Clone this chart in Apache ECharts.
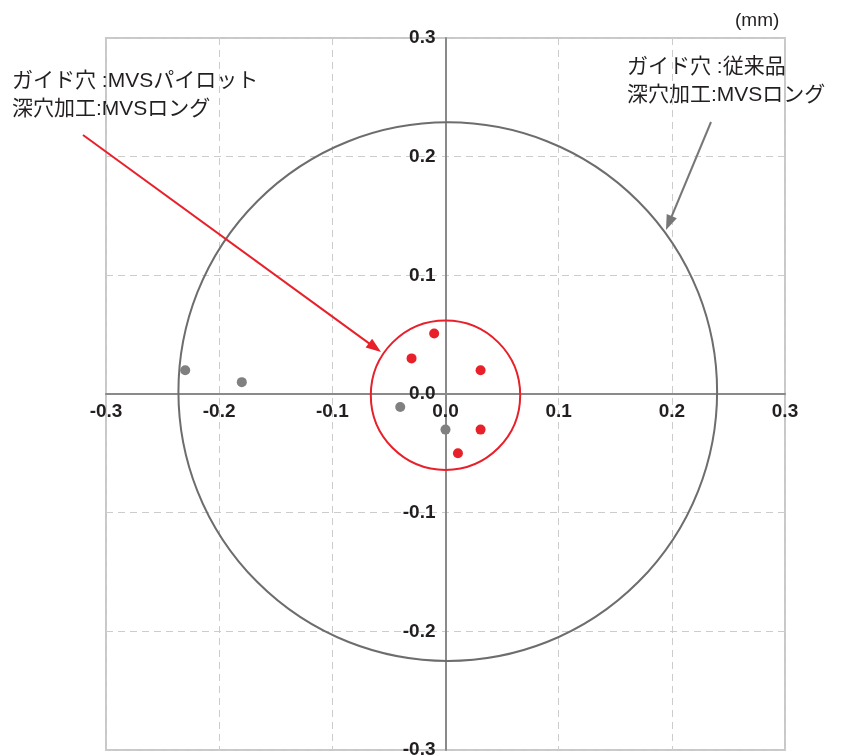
<!DOCTYPE html>
<html>
<head>
<meta charset="utf-8">
<script src="https://cdn.jsdelivr.net/npm/echarts@6/dist/echarts.min.js"></script>
<style>
html,body{margin:0;padding:0;background:#fff;}
#main{width:847px;height:756px;}
</style>
</head>
<body>
<div id="main"></div>
<script>
// tick labels
var tickMin = -0.3, tickMax = 0.3, tickStep = 0.1;
// MVS pilot guide hole points (red)
var redX = [-0.01, -0.03, 0.031, 0.031, 0.011];
var redY = [0.051, 0.03, 0.02, -0.03, -0.05];
// conventional guide hole points (gray)
var grayX = [-0.23, -0.18, -0.04, 0.0];
var grayY = [0.02, 0.01, -0.011, -0.03];
// circles: [centerX, centerY, radius]
var redCircle = [0.0, -0.001, 0.066];
var grayCircle = [0.002, 0.002, 0.238];

var RED = '#e8202a', GRAY = '#808080', TXT = '#231f20';
var LAT = '"Liberation Sans", Arial, "Noto Sans CJK JP", sans-serif';

function pts(xs, ys){ return xs.map(function(x,i){ return [x, ys[i]]; }); }

function circleSeries(c, color){
  return {
    type: 'custom', clip: false, z: 3,
    data: [c],
    renderItem: function(params, api){
      var ctr = api.coord([api.value(0), api.value(1)]);
      var r = api.size([api.value(2), 0])[0];
      return { type: 'circle', shape: {cx: ctr[0], cy: ctr[1], r: r},
               style: {fill: 'none', stroke: color, lineWidth: 2} };
    }
  };
}

function arrow(x1,y1,x2,y2,color,len,wid){
  var dx=x2-x1, dy=y2-y1, L=Math.sqrt(dx*dx+dy*dy), ux=dx/L, uy=dy/L;
  var bx=x2-ux*len, by=y2-uy*len, px=-uy, py=ux;
  return [
    {type:'line', z:10, shape:{x1:x1,y1:y1,x2:bx+ux*2,y2:by+uy*2}, style:{stroke:color,lineWidth:2}},
    {type:'polygon', z:10, shape:{points:[[x2,y2],[bx+px*wid/2,by+py*wid/2],[bx-px*wid/2,by-py*wid/2]]}, style:{fill:color}}
  ];
}

function fmt(v){ return v.toFixed(1); }
function makeAxis(margin){
  return {
    type: 'value', min: tickMin, max: tickMax, interval: tickStep,
    axisLine: {show: true, onZero: false, lineStyle: {color: '#8a8a8a', width: 2}},
    axisTick: {show: false},
    splitLine: {show: true, lineStyle: {color: '#cccccc', width: 1, type: [7,5]}},
    axisLabel: {show: true, color: TXT, fontFamily: LAT, fontWeight: 'bold', fontSize: 19,
                margin: margin, showMinLabel: true, showMaxLabel: true, formatter: fmt}
  };
}

var chart = echarts.init(document.getElementById('main'));
var JP = '21px "Liberation Sans", "Noto Sans CJK JP", sans-serif';
var graphics = [
  {type:'text', left: 735, top: 11, style:{text:'(mm)', fill:TXT, font:'19px ' + LAT}},
  {type:'text', left: 12, top: 67, style:{text:'ガイド穴 :MVSパイロット\n深穴加工:MVSロング', fill:TXT,
     font: JP, lineHeight: 28}},
  {type:'text', left: 627, top: 53, style:{text:'ガイド穴 :従来品\n深穴加工:MVSロング', fill:TXT,
     font: JP, lineHeight: 28}}
].concat(arrow(83,135,381,352,RED,15,11)).concat(arrow(711,122,666,230,'#777777',15,11));

chart.setOption({
  backgroundColor: '#fff',
  animation: false,
  grid: {left: 106, right: 62, top: 38, bottom: 6, show: true, borderColor: '#c8c8c8', borderWidth: 2,
         outerBoundsMode: 'none', containLabel: false},
  xAxis: makeAxis(8),
  yAxis: makeAxis(10),
  graphic: graphics,
  series: [
    circleSeries(grayCircle, '#6d6d6d'),
    circleSeries(redCircle, RED),
    {type: 'scatter', data: pts(grayX, grayY), symbolSize: 10, itemStyle: {color: GRAY, opacity: 1}, z: 5},
    {type: 'scatter', data: pts(redX, redY), symbolSize: 10, itemStyle: {color: RED, opacity: 1}, z: 5}
  ]
});

// move both axes (line + labels) onto the zero lines using the library's scales
var zx = chart.convertToPixel({xAxisIndex: 0}, 0);
var lx = chart.convertToPixel({xAxisIndex: 0}, tickMin);
var zy = chart.convertToPixel({yAxisIndex: 0}, 0);
var by = chart.convertToPixel({yAxisIndex: 0}, tickMin);
chart.setOption({yAxis: {offset: -(zx - lx)}, xAxis: {offset: -(by - zy)}});
</script>
</body>
</html>
